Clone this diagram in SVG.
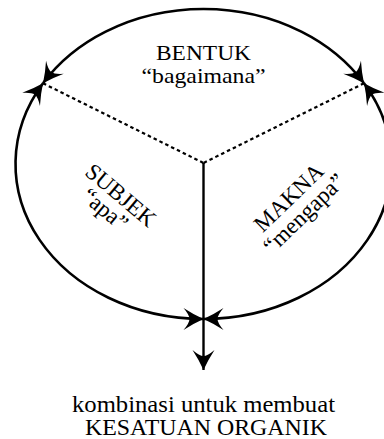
<svg xmlns="http://www.w3.org/2000/svg" width="384" height="439" viewBox="0 0 384 439">
<style>
text{font-family:"Liberation Serif","Times New Roman",serif;font-size:23px;fill:#000;text-anchor:middle}
.arc{fill:none;stroke:#000;stroke-width:2.6;marker-start:url(#ah);marker-end:url(#ah)}
.dot{fill:none;stroke:#000;stroke-width:2.2;stroke-dasharray:3.5 3}
.solid{fill:none;stroke:#000;stroke-width:2.4}
</style>
<defs>
<marker id="ah" viewBox="-22 -12 24 24" markerWidth="24" markerHeight="24" refX="0" refY="0" orient="auto-start-reverse" markerUnits="userSpaceOnUse">
<path d="M0,0 Q-10,-4.5 -20,-11 Q-14,-4 -14,0 Q-14,4 -20,11 Q-10,4.5 0,0 Z" fill="#000"/>
</marker>
</defs>
<rect width="384" height="439" fill="#fff"/>
<g id="connectors">
<path class="arc" d="M43,83.3 A188,155 0 0 1 364,83.3"/>
<path class="arc" d="M364,83.3 A188,155 0 0 1 203.5,319"/>
<path class="arc" d="M203.5,319 A188,155 0 0 1 43,83.3"/>
<path class="dot" d="M43,83.3 L203.5,163"/>
<path class="dot" d="M364,83.3 L203.5,163"/>
<path class="solid" d="M203.5,163 L203.5,370" marker-end="url(#ah)"/>
</g>
<g id="bentuk">
<text x="203.5" y="60" style="font-size:22px" textLength="95" lengthAdjust="spacingAndGlyphs">BENTUK</text>
<text x="203.5" y="83" style="font-size:22px" textLength="124" lengthAdjust="spacingAndGlyphs">“bagaimana”</text>
</g>
<g id="subjek" transform="translate(116,201) rotate(40)">
<text x="0" y="0">SUBJEK</text>
<text x="-3" y="21">“apa”</text>
</g>
<g id="makna" transform="translate(294,203) rotate(-44)">
<text x="0" y="0">MAKNA</text>
<text x="0" y="22">“mengapa”</text>
</g>
<g id="hasil">
<text x="203.5" y="412" textLength="263" lengthAdjust="spacingAndGlyphs">kombinasi untuk membuat</text>
<text x="206" y="435" textLength="242" lengthAdjust="spacingAndGlyphs">KESATUAN ORGANIK</text>
</g>
</svg>
